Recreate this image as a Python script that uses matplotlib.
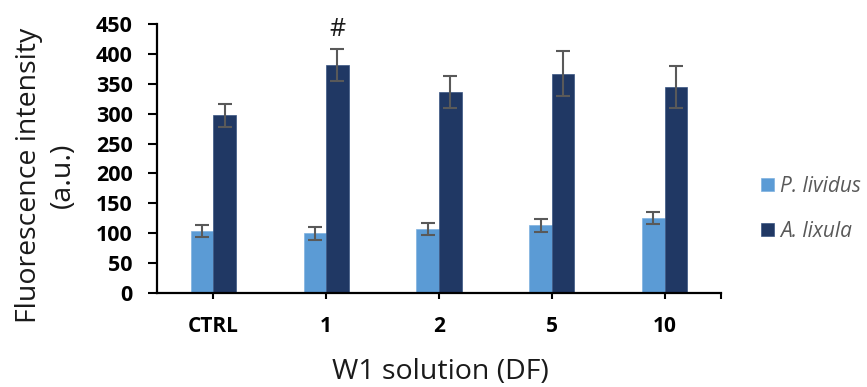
import matplotlib
matplotlib.use("Agg")
import matplotlib.pyplot as plt
import numpy as np

categories = ["CTRL", "1", "2", "5", "10"]
series_names = ["P. lividus", "A. lixula"]
p_lividus = [104, 100, 107, 113, 126]
p_lividus_err = [10, 11, 10, 11, 10]
a_lixula = [297, 382, 336, 367, 344]
a_lixula_err = [19, 27, 27, 37, 35]
yticks = [0, 50, 100, 150, 200, 250, 300, 350, 400, 450]

plt.rcParams['font.family'] = ['Open Sans', 'DejaVu Sans']

W, H = 867, 387
fig = plt.figure(figsize=(W / 100, H / 100), dpi=100)
ax = fig.add_axes([157 / W, 1 - 293 / H, (721 - 157) / W, (293 - 24) / H])

x = np.arange(len(categories))
bw = 0.2
c1 = "#5B9BD5"
c2 = "#203864"
ecol = "#595959"
ax.bar(x - bw / 2, p_lividus, bw, color=c1, edgecolor="#7FB2E0", linewidth=0.5,
       label=series_names[0], zorder=2)
ax.bar(x + bw / 2, a_lixula, bw, color=c2, edgecolor="#3A5582", linewidth=0.5,
       label=series_names[1], zorder=2)
ax.errorbar(x - bw / 2, p_lividus, yerr=p_lividus_err, fmt='none', ecolor=ecol,
            elinewidth=1.5, capsize=4.7, capthick=1.5, zorder=3)
ax.errorbar(x + bw / 2, a_lixula, yerr=a_lixula_err, fmt='none', ecolor=ecol,
            elinewidth=1.5, capsize=4.7, capthick=1.5, zorder=3)

ax.text(x[1] + bw / 2, 441, "#", ha='center', va='center', fontsize=18,
        color='#1a1a1a')

ax.set_xlim(-0.5, len(categories) - 0.5)
ax.set_ylim(0, 450)
ax.set_yticks(yticks)
ax.set_yticklabels([str(v) for v in yticks], fontweight='bold', fontsize=15.5)
ax.set_xticks(x)
ax.set_xticklabels(categories, fontweight='bold', fontsize=15)
ax.set_xticks([len(categories) - 0.5], minor=True)

for s in ['top', 'right']:
    ax.spines[s].set_visible(False)
for s in ['left', 'bottom']:
    ax.spines[s].set_linewidth(1.6)
    ax.spines[s].set_color('black')

ax.tick_params(axis='y', length=6.5, width=1.5, pad=11, colors='black')
ax.tick_params(axis='x', which='both', length=4.5, width=1.5, pad=12, colors='black')

fig.text(46 / W, 1 - 175 / H, "Fluorescence intensity\n(a.u.)", rotation=90,
         ha='center', va='center', multialignment='center', fontsize=20.5,
         color='#1a1a1a', linespacing=1.3)
fig.text(440 / W, 1 - 372 / H, "W1 solution (DF)", ha='center', va='center',
         fontsize=20.5, color='#1a1a1a')

leg = fig.legend(loc='center left', bbox_to_anchor=(761 / W, 1 - 209 / H),
                 frameon=False, handlelength=0.62, handleheight=0.62,
                 handletextpad=0.3, labelspacing=1.15, borderpad=0,
                 borderaxespad=0, prop={'style': 'italic', 'size': 15})
for t in leg.get_texts():
    t.set_color('#595959')

fig.savefig("out.png", dpi=100)
